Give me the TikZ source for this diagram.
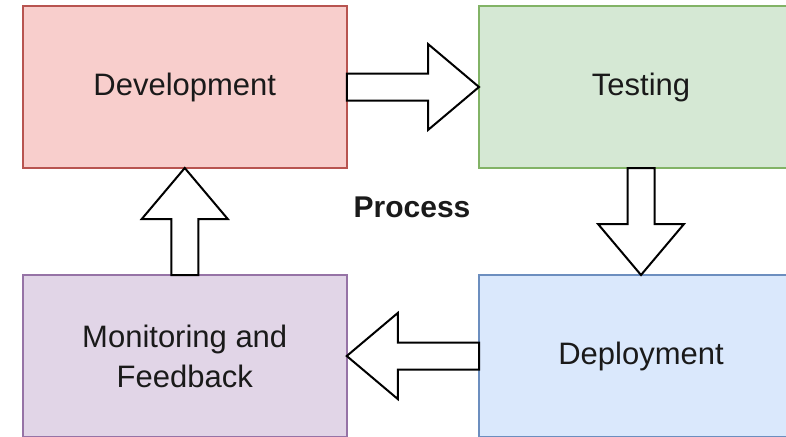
\documentclass[tikz,border=0pt]{standalone}
\usepackage{fontspec}
\setmainfont{Liberation Sans}
\usetikzlibrary{calc}

\definecolor{devfill}{HTML}{F8CECC}\definecolor{devline}{HTML}{B85450}
\definecolor{testfill}{HTML}{D5E8D4}\definecolor{testline}{HTML}{82B366}
\definecolor{monfill}{HTML}{E1D5E7}\definecolor{monline}{HTML}{9673A6}
\definecolor{depfill}{HTML}{DAE8FC}\definecolor{depline}{HTML}{6C8EBF}
\definecolor{ink}{HTML}{1A1A1A}

\tikzset{
  stage/.style={draw, line width=2pt, minimum width=324pt, minimum height=162pt,
    inner sep=0pt, outer sep=0pt, align=center, text=ink,
    font=\fontsize{31}{40}\selectfont},
  blockline/.style={draw=black, fill=white, line width=2pt, line join=miter},
}

% hollow block arrow from tail #1 to tip #2
\newcommand\blockarrow[2]{%
  \coordinate (hb) at ($(#2)!51pt!(#1)$);
  \draw[blockline]
    ($(#1)!13.5pt!90:(#2)$) -- ($(hb)!13.5pt!90:(#2)$) -- ($(hb)!43pt!90:(#2)$)
    -- (#2) -- ($(hb)!43pt!-90:(#2)$) -- ($(hb)!13.5pt!-90:(#2)$)
    -- ($(#1)!13.5pt!-90:(#2)$) -- cycle;
}

\begin{document}
\begin{tikzpicture}[x=1pt,y=-1pt]
  \path[use as bounding box, clip] (0,0) rectangle (786,436);

  \node[stage, fill=devfill, draw=devline]  (dev)  at (184.75,87)  {Development};
  \node[stage, fill=testfill, draw=testline] (test) at (641,87)    {Testing};
  \node[stage, fill=depfill, draw=depline]  (dep)  at (641,356)   {Deployment};
  \node[stage, fill=monfill, draw=monline]  (mon)  at (184.75,356) {Monitoring and\\Feedback};

  \blockarrow{dev.east}{test.west}
  \blockarrow{test.south}{dep.north}
  \blockarrow{dep.west}{mon.east}
  \blockarrow{mon.north}{dev.south}

  \node[anchor=base, text=ink, font=\fontsize{30}{36}\selectfont\bfseries] (title) at (412,217) {Process};
\end{tikzpicture}
\end{document}
